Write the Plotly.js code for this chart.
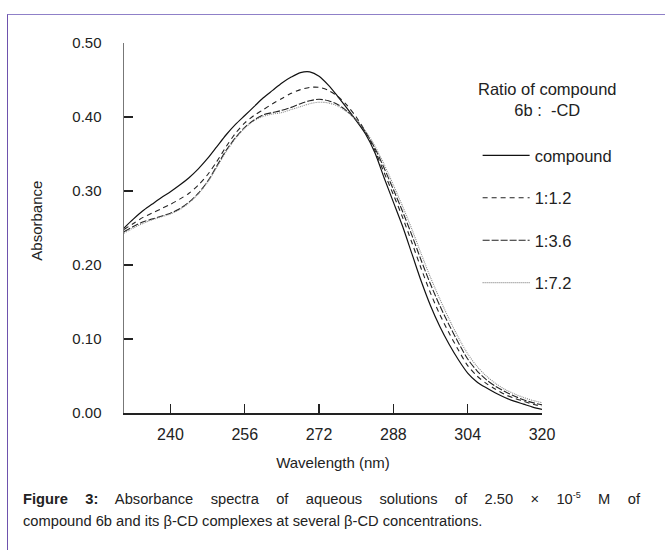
<!DOCTYPE html>
<html>
<head>
<meta charset="utf-8">
<script src="https://cdn.plot.ly/plotly-3.0.1.min.js"></script>
<style>
  html, body { margin:0; padding:0; background:#fff; }
  #wrap { position:relative; width:665px; height:550px; overflow:hidden; font-family:"Liberation Sans", Arial, sans-serif; }
  #frame { position:absolute; left:7px; top:14px; width:700px; height:600px; border-left:1.5px solid #6e52ad; border-top:1.5px solid #8f80c8; }
  #chart { position:absolute; left:0; top:0; width:665px; height:550px; }
  #caption { position:absolute; left:23px; top:484px; width:617px; font-size:14.7px; line-height:22px; color:#222; }
  #caption .l1 { text-align:justify; text-align-last:justify; }
</style>
</head>
<body>
<div id="wrap">
  <div id="frame"></div>
  <div id="chart"></div>
  <div id="caption">
    <div class="l1"><b>Figure 3:</b> Absorbance spectra of aqueous solutions of 2.50 × 10<sup style="font-size:9px;">-5</sup> M of</div>
    <div>compound 6b and its β-CD complexes at several β-CD concentrations.</div>
  </div>
</div>
<script>
// Wavelength (nm)
const wavelength = [230,232,234,236,238,240,242,244,246,248,250,252,254,256,258,260,262,264,266,268,270,272,274,276,278,280,282,284,286,288,290,292,294,296,298,300,302,304,306,308,310,312,314,316,318,320];

// Absorbance series
const compound = [0.250,0.262,0.273,0.282,0.291,0.299,0.308,0.318,0.330,0.344,0.360,0.376,0.390,0.402,0.414,0.426,0.436,0.446,0.454,0.460,0.461,0.455,0.443,0.428,0.412,0.395,0.377,0.352,0.318,0.285,0.252,0.215,0.178,0.145,0.117,0.093,0.072,0.054,0.042,0.034,0.027,0.021,0.016,0.012,0.008,0.005];
const ratio12 = [0.248,0.256,0.264,0.270,0.276,0.282,0.289,0.297,0.308,0.322,0.340,0.360,0.378,0.392,0.402,0.410,0.418,0.425,0.432,0.437,0.440,0.440,0.436,0.428,0.416,0.400,0.380,0.355,0.325,0.295,0.264,0.230,0.195,0.162,0.133,0.108,0.085,0.064,0.050,0.040,0.032,0.025,0.020,0.016,0.012,0.009];
const ratio36 = [0.245,0.252,0.258,0.262,0.266,0.270,0.276,0.285,0.297,0.313,0.334,0.355,0.372,0.386,0.396,0.403,0.406,0.409,0.413,0.418,0.422,0.424,0.422,0.417,0.408,0.396,0.380,0.358,0.331,0.302,0.272,0.240,0.206,0.174,0.145,0.119,0.095,0.073,0.057,0.045,0.036,0.029,0.023,0.018,0.014,0.011];
const ratio72 = [0.243,0.250,0.256,0.261,0.265,0.269,0.275,0.284,0.296,0.312,0.332,0.353,0.371,0.385,0.395,0.401,0.404,0.406,0.410,0.414,0.418,0.420,0.419,0.415,0.407,0.396,0.381,0.361,0.336,0.308,0.279,0.248,0.215,0.183,0.154,0.127,0.102,0.080,0.063,0.050,0.040,0.032,0.026,0.021,0.017,0.014];

const seriesNames = ["compound","1:1.2","1:3.6","1:7.2"];
const xTicks = [240,256,272,288,304,320];
const yTicks = [0,0.1,0.2,0.3,0.4,0.5];
const yTickText = ["0.00","0.10","0.20","0.30","0.40","0.50"];

const FONT = '"Liberation Sans", Arial, sans-serif';
const styles = [
  {color:'#111', width:1.2, dash:'solid'},
  {color:'#222', width:1.1, dash:'5px,4px'},
  {color:'#222', width:1.1, dash:'7px,2px'},
  {color:'#8a8a8a', width:1.1, dash:'1px,1px'}
];
const ys = [compound, ratio12, ratio36, ratio72];
const traces = ys.map((y,i)=>({
  x: wavelength, y: y, type:'scatter', mode:'lines', name: seriesNames[i],
  legendgroup: 'g'+i,
  line: {color: styles[i].color, width: styles[i].width, dash: styles[i].dash, shape:'spline', smoothing:0.8},
  hoverinfo:'skip'
}));

const layout = {
  width:665, height:550,
  margin:{l:124, r:122.5, t:43, b:137},
  paper_bgcolor:'rgba(0,0,0,0)', plot_bgcolor:'rgba(0,0,0,0)',
  font:{family:FONT, color:'#222'},
  showlegend:true,
  legend:{x:0.846, xanchor:'left', y:0.743, yanchor:'top', font:{size:16.5, family:FONT, color:'#222'},
          tracegroupgap:18, itemwidth:47, bgcolor:'rgba(0,0,0,0)'},
  xaxis:{range:[230,320], tickvals:xTicks, ticks:'inside', ticklen:9, tickwidth:1.2, tickcolor:'#222',
         showline:true, linecolor:'#222', linewidth:1.5, showgrid:false, zeroline:false,
         tickfont:{size:16, family:FONT, color:'#222'}, ticklabelstandoff:6,
         title:{text:'Wavelength (nm)', font:{size:15, family:FONT, color:'#222'}, standoff:16}},
  yaxis:{range:[0,0.5], tickvals:yTicks, ticktext:yTickText, ticks:'inside', ticklen:9, tickwidth:1.2, tickcolor:'#222',
         showline:true, linecolor:'#777', linewidth:1.5, showgrid:false, zeroline:false,
         tickfont:{size:15, family:FONT, color:'#222'}, ticklabelstandoff:18},
  annotations:[
    {xref:'paper', yref:'paper', x:1.013, y:0.846, xanchor:'center', yanchor:'middle', showarrow:false,
     text:'Ratio of compound<br>6b :&nbsp;&nbsp;-CD', font:{size:16.5, family:FONT, color:'#222'}},
    {xref:'paper', yref:'paper', x:-0.208, y:0.52, xanchor:'center', yanchor:'middle', showarrow:false,
     textangle:-90, text:'Absorbance', font:{size:15, family:FONT, color:'#222'}}
  ]
};

Plotly.newPlot('chart', traces, layout, {staticPlot:true, displayModeBar:false});
</script>
</body>
</html>
